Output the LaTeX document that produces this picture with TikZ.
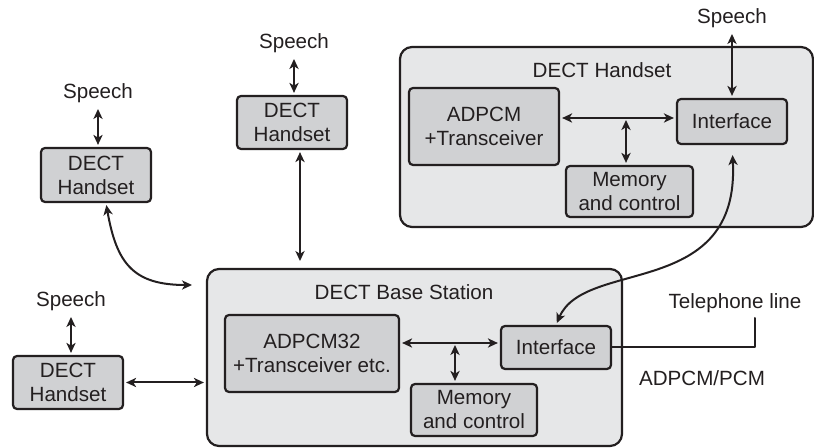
\documentclass[tikz,border=0pt]{standalone}
\usepackage{fontspec}
\setmainfont{Liberation Sans}
\usetikzlibrary{arrows.meta}
\definecolor{ink}{HTML}{231F20}
\definecolor{blkgray}{HTML}{D0D1D3}
\definecolor{panelgray}{HTML}{E6E7E8}
\begin{document}
\begin{tikzpicture}[>={Stealth[length=5pt,width=4.6pt,inset=1.4pt]},line join=round,line cap=round,x=0.5pt,y=-0.5pt,
	font=\fontsize{10.3}{12}\selectfont,
	blk/.style={draw=ink,line width=1.1pt,fill=blkgray,rounded corners=2pt,align=center,inner sep=0pt,text=ink},
	panel/.style={draw=ink,line width=1.1pt,fill=panelgray,rounded corners=6pt,inner sep=0pt},
	lbl/.style={text=ink,inner sep=2pt},
	link/.style={<->,draw=ink,line width=1pt,shorten >=1pt,shorten <=1pt}]
		\useasboundingbox (0,0) rectangle (814,448);
		\node[panel,minimum width=206.5pt,minimum height=90pt] (hset) at (606.5,137) {};
		\node[lbl] (hsetT) at (602,70) {DECT Handset};
		\node[blk,minimum width=75pt,minimum height=38.5pt] (hAdpcm) at (484,126.5) {ADPCM\\+Transceiver};
		\node[blk,minimum width=55pt,minimum height=22.5pt] (hInt) at (732,121.5) {Interface};
		\node[blk,minimum width=63.5pt,minimum height=25.5pt] (hMem) at (629.5,191.5) {Memory\\and control};
		\node[panel,minimum width=207.5pt,minimum height=88.5pt] (base) at (414.5,357.5) {};
		\node[lbl] (baseT) at (404,292) {DECT Base Station};
		\node[blk,minimum width=87pt,minimum height=38.5pt] (bAdpcm) at (312,353.5) {ADPCM32\\+Transceiver etc.};
		\node[blk,minimum width=55pt,minimum height=21.5pt] (bInt) at (556,347.5) {Interface};
		\node[blk,minimum width=63pt,minimum height=26pt] (bMem) at (474,410) {Memory\\and control};
		\node[blk,minimum width=55pt,minimum height=27pt] (hsA) at (96,175) {DECT\\Handset};
		\node[blk,minimum width=55pt,minimum height=26.5pt] (hsB) at (292,122.5) {DECT\\Handset};
		\node[blk,minimum width=55pt,minimum height=26.5pt] (hsC) at (68,382.5) {DECT\\Handset};
		\node[lbl] (spA) at (98,93) {Speech};
		\node[lbl] (spB) at (294,43) {Speech};
		\node[lbl] (spC) at (71,301) {Speech};
		\node[lbl] (spD) at (732,18) {Speech};
		\node[lbl] (tel) at (735,303) {Telephone line};
		\node[lbl] (pcm) at (702,378) {ADPCM/PCM};
		\coordinate (hJoin) at (626,118);
		\coordinate (bJoin) at (455,343);
		\coordinate (bTop) at (300,263);
		\coordinate (bIn) at (194,285);
		\coordinate (telEnd) at (755,318);
		\draw[link] (spA.south) -- (spA.south |- hsA.north);
		\draw[link] (spB.south) -- (spB.south |- hsB.north);
		\draw[link] (spC.south) -- (spC.south |- hsC.north);
		\draw[link] (spD.south) -- (spD.south |- hInt.north);
		\draw[link] (hAdpcm.east |- hJoin) -- (hInt.west |- hJoin);
		\draw[link] (hJoin) -- (hJoin |- hMem.north);
		\draw[link] (bAdpcm.east |- bJoin) -- (bInt.west |- bJoin);
		\draw[link] (bJoin) -- (bJoin |- bMem.north);
		\draw[link] (bTop |- hsB.south) -- (bTop);
		\draw[link] (hsC.east) -- (hsC.east -| base.west);
		\draw[link] ([xshift=5pt]hsA.south) to[out=-80,in=180,looseness=1.3] (bIn);
		\draw[link,shorten >=5pt] (bInt.north) .. controls (585,258) and (740,300) .. (hInt.south);
		\draw[ink,line width=1pt] (bInt.east) -| (telEnd);
\end{tikzpicture}
\end{document}
